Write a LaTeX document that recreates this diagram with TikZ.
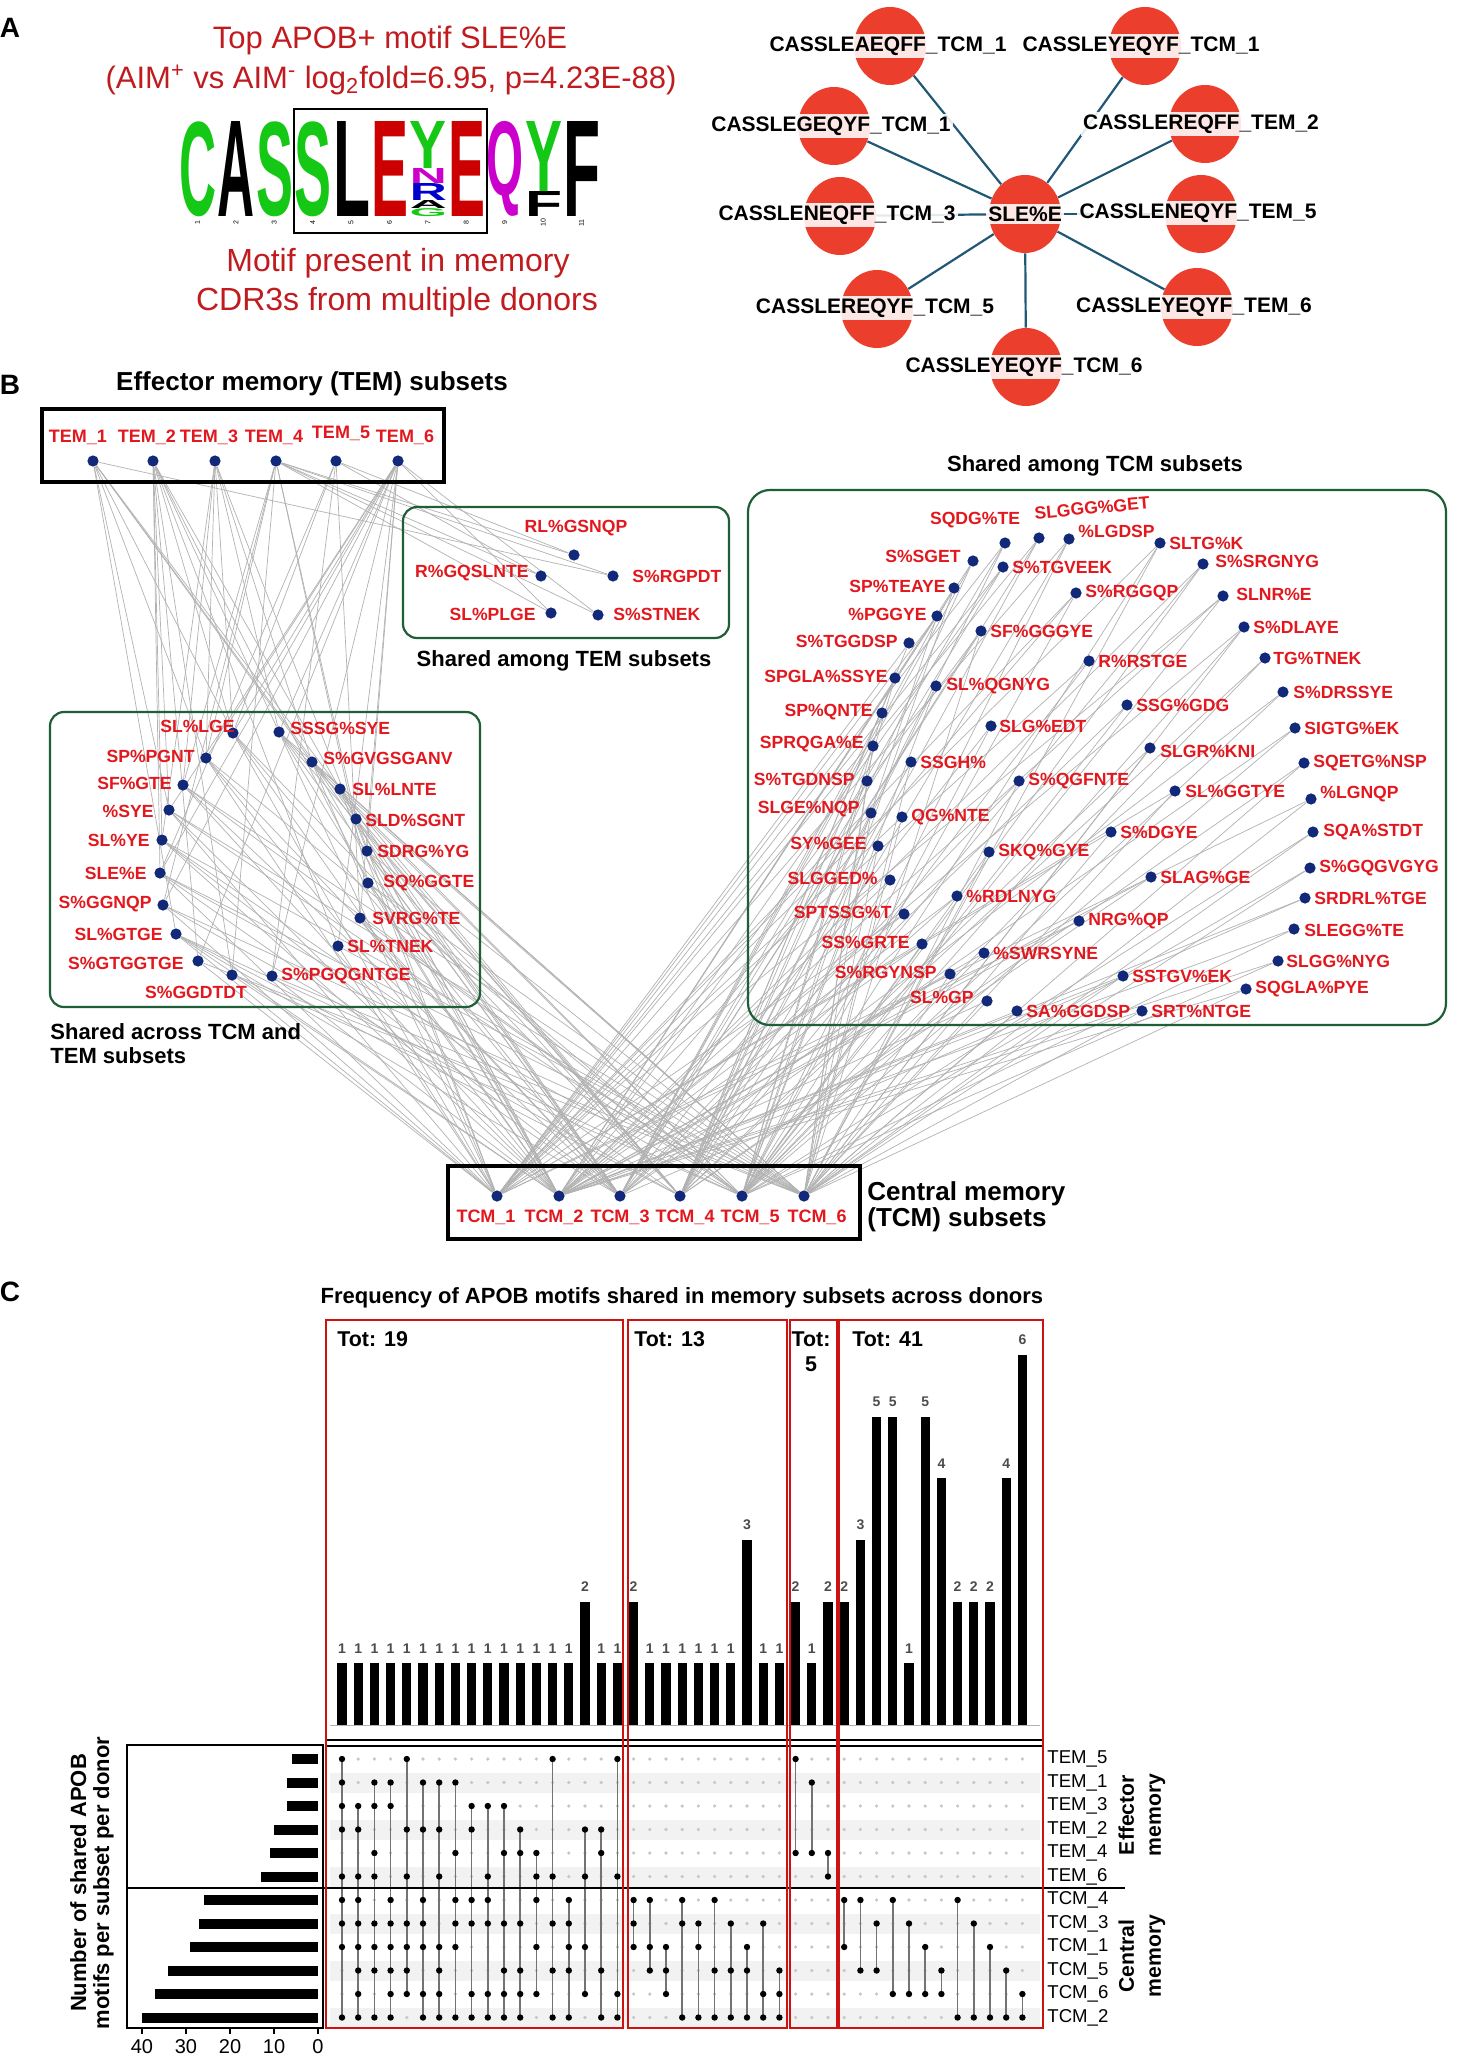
\documentclass[tikz,border=0pt]{standalone}
\usepackage{fontspec}
\setmainfont{Liberation Sans}
\usetikzlibrary{shapes.geometric}
\definecolor{titlered}{RGB}{192,28,32}
\definecolor{labred}{RGB}{226,24,30}
\definecolor{navy}{RGB}{18,40,120}
\definecolor{nodered}{RGB}{236,62,44}
\definecolor{netblue}{RGB}{32,88,118}
\definecolor{boxgreen}{RGB}{30,95,55}
\definecolor{lgreen}{RGB}{22,200,22}
\definecolor{lred}{RGB}{204,0,0}
\definecolor{lmag}{RGB}{204,0,204}
\definecolor{lblue}{RGB}{0,0,204}
\definecolor{upred}{RGB}{206,18,18}
\pgfdeclarelayer{bglayer}
\pgfdeclarelayer{edgelayer}
\pgfsetlayers{bglayer,edgelayer,main}
\newcommand{\logoletter}[6]{\node[logo,text=#5] (#6) at (#1,#2) {\resizebox*{18.5pt}{#3pt}{\bfseries #4}};}
\begin{document}
\begin{tikzpicture}[x=0.5pt,y=-0.5pt,
  every node/.style={inner sep=0pt},
  titletxt/.style={text=titlered,font=\fontsize{15.5}{18}\selectfont},
  subtxt/.style={text=titlered,font=\fontsize{16}{18}\selectfont},
  panellab/.style={font=\fontsize{14}{14}\selectfont\bfseries},
  ell/.style={ellipse,fill=nodered,minimum width=36pt,minimum height=39pt},
  netlab/.style={fill=white,fill opacity=0.88,text opacity=1,inner sep=1.3pt,font=\fontsize{10.5}{11}\selectfont\bfseries},
  netedge/.style={draw=netblue,line width=1.1pt},
  dot/.style={circle,fill=navy,minimum size=5.6pt},
  mlab/.style={text=labred,font=\fontsize{8.8}{9}\selectfont\bfseries},
  hdr/.style={font=\fontsize{13}{13}\selectfont\bfseries},
  shdr/.style={font=\fontsize{11}{12}\selectfont\bfseries},
  edge/.style={draw=black!30,line width=0.35pt},
  gbox/.style={draw=boxgreen,line width=1.1pt,rounded corners=7pt},
  kbox/.style={draw=black,line width=1.6pt},
  barnum/.style={text=black!70,font=\fontsize{7}{7}\selectfont\bfseries},
  tot/.style={font=\fontsize{10.7}{11}\selectfont\bfseries},
  rowlab/.style={anchor=west,font=\fontsize{9.3}{10}\selectfont},
  mline/.style={draw=black!55,line width=0.8pt},
  redbox/.style={draw=upred,line width=1.1pt},
  logo/.style={anchor=south west},
  lognum/.style={rotate=90,font=\fontsize{3.5}{4}\selectfont}
]
\useasboundingbox (0,0) rectangle (1456,2059);
\begin{pgfonlayer}{bglayer}
\fill[white] (0,0) rectangle (1456,2059);
\end{pgfonlayer}

% ================= Panel A =================
\node[panellab] (labA) at (10,28) {A};
\node[titletxt] (t1) at (390,40) {Top APOB+ motif SLE\%E};
\node[titletxt] (t2) at (391,80) {(AIM\textsuperscript{+} vs AIM\textsuperscript{-} log\textsubscript{2}fold=6.95, p=4.23E-88)};
\node[subtxt] (t3) at (398,263) {Motif present in memory};
\node[subtxt] (t4) at (397,302) {CDR3s from multiple donors};

\logoletter{179}{217}{47.5}{C}{lgreen}{lg1}
\logoletter{217.4}{217}{47.5}{A}{black}{lg2}
\logoletter{255.8}{217}{47.5}{S}{lgreen}{lg3}
\logoletter{294.2}{217}{47.5}{S}{lgreen}{lg4}
\logoletter{332.6}{217}{47.5}{L}{black}{lg5}
\logoletter{371}{217}{47.5}{E}{lred}{lg6}
\logoletter{409.4}{217}{4}{G}{lgreen}{lg7a}
\logoletter{409.4}{209}{4}{A}{black}{lg7b}
\logoletter{409.4}{201}{8.5}{R}{lblue}{lg7c}
\logoletter{409.4}{184}{7.5}{N}{lmag}{lg7d}
\logoletter{409.4}{169}{23.5}{Y}{lgreen}{lg7e}
\logoletter{447.8}{217}{47.5}{E}{lred}{lg8}
\logoletter{486.2}{217}{47.5}{Q}{lmag}{lg9}
\logoletter{524.6}{217}{12.5}{F}{black}{lg10a}
\logoletter{524.6}{192}{35}{Y}{lgreen}{lg10b}
\logoletter{563}{217}{47.5}{F}{black}{lg11}
\draw[line width=1pt] (294,109) rectangle (487,233);
\foreach \k in {1,...,11} {
  \node[lognum] (ln\k) at ({179+38.4*(\k-1)+18.5},223) {\k};
}

% network
\node[ell] (C) at (1025,214) {};
\node[ell] (E1) at (890,46) {};
\node[ell] (E2) at (1145,46) {};
\node[ell] (E3) at (834,126) {};
\node[ell] (E4) at (1205,124) {};
\node[ell] (E5) at (840,216) {};
\node[ell] (E6) at (1201,214) {};
\node[ell] (E7) at (877,309) {};
\node[ell] (E8) at (1197,307) {};
\node[ell] (E9) at (1026,367) {};
\foreach \k in {1,...,9} {\draw[netedge] (C) -- (E\k);}
\node[netlab] (Ct) at (1025,214) {SLE\%E};
\node[netlab] (E1t) at (888,46) {CASSLEAEQFF\_TCM\_1};
\node[netlab] (E2t) at (1141,46) {CASSLEYEQYF\_TCM\_1};
\node[netlab] (E3t) at (831,126) {CASSLEGEQYF\_TCM\_1};
\node[netlab] (E4t) at (1201,124) {CASSLEREQFF\_TEM\_2};
\node[netlab] (E5t) at (837,215) {CASSLENEQFF\_TCM\_3};
\node[netlab] (E6t) at (1198,213) {CASSLENEQYF\_TEM\_5};
\node[netlab] (E7t) at (875,308) {CASSLEREQYF\_TCM\_5};
\node[netlab] (E8t) at (1194,307) {CASSLEYEQYF\_TEM\_6};
\node[netlab] (E9t) at (1024,367) {CASSLEYEQYF\_TCM\_6};

% ================= Panel B =================
\node[panellab] (labB) at (10,385) {B};
\node[hdr] (hTEM) at (312,384) {Effector memory (TEM) subsets};
\draw[kbox] (42,409) rectangle (444,482);
\draw[kbox] (448,1166) rectangle (860,1239);
\draw[gbox] (50,712) rectangle (480,1007);
\draw[gbox] (403,507) rectangle (729,638);
\draw[gbox,rounded corners=11pt] (748,490) rectangle (1446,1025);
\node[shdr] (hTEMsh) at (564,661) {Shared among TEM subsets};
\node[shdr] (hTCMsh) at (1095,466) {Shared among TCM subsets};
\node[shdr,anchor=west,align=left] (hBoth) at (50,1044) {Shared across TCM and\\TEM subsets};
\node[hdr,anchor=west,align=left,font=\fontsize{13}{13}\selectfont\bfseries] (hTCM) at (867,1207) {Central memory\\(TCM) subsets};

\foreach \k/\x/\lx/\ly in {1/93/78/437,2/153/147/437,3/215/209/437,4/276/274/437,5/336/341/433,6/398/405/437} {
  \node[dot] (TEM\k) at (\x,461) {};
  \node[mlab,font=\fontsize{9}{9}\selectfont\bfseries] (TEM\k-t) at (\lx,\ly) {TEM\_\k};
}
\foreach \k/\x/\lx in {1/497/486,2/559/554,3/620/620,4/680/685,5/742/750,6/804/817} {
  \node[dot] (TCM\k) at (\x,1196) {};
  \node[mlab,font=\fontsize{9}{9}\selectfont\bfseries] (TCM\k-t) at (\lx,1217) {TCM\_\k};
}

% motifs shared across TCM and TEM
\foreach \n/\x/\y/\a/\lx/\ly/\t in {
 L1/233/733/east/235/726/SL\%LGE,
 L2/279/732/west/290/728/SSSG\%SYE,
 L3/206/758/east/195/756/SP\%PGNT,
 L4/312/762/west/323/758/S\%GVGSGANV,
 L5/183/785/east/172/783/SF\%GTE,
 L6/340/789/west/352/789/SL\%LNTE,
 L7/169/810/east/154/811/\%SYE,
 L8/356/819/west/365/820/SLD\%SGNT,
 L9/162/840/east/150/840/SL\%YE,
 L10/367/851/west/377/851/SDRG\%YG,
 L11/160/873/east/147/873/SLE\%E,
 L12/368/883/west/383/883/SQ\%GGTE,
 L13/163/905/east/152/904/S\%GGNQP,
 L14/360/918/west/372/918/SVRG\%TE,
 L15/176/934/east/163/934/SL\%GTGE,
 L16/338/946/west/347/946/SL\%TNEK,
 L17/198/961/east/184/963/S\%GTGGTGE,
 L18/232/975/center/196/992/S\%GGDTDT,
 L19/272/976/west/281/976/S\%PGQGNTGE,
 T1/574/555/center/576/528/RL\%GSNQP,
 T2/541/576/east/529/573/R\%GQSLNTE,
 T3/613/576/west/632/576/S\%RGPDT,
 T4/551/613/east/536/614/SL\%PLGE,
 T5/598/615/west/613/614/S\%STNEK,
 R1/1005/543/center/975/520/SQDG\%TE,
 R3/1069/539/west/1078/531/\%LGDSP,
 R4/1160/543/west/1169/543/SLTG\%K,
 R5/973/561/east/961/556/S\%SGET,
 R6/1003/567/west/1012/567/S\%TGVEEK,
 R7/1203/564/west/1215/561/S\%SRGNYG,
 R8/954/588/east/946/586/SP\%TEAYE,
 R9/1076/593/west/1085/593/S\%RGGQP,
 R10/1223/596/west/1236/594/SLNR\%E,
 R11/937/616/east/927/614/\%PGGYE,
 R12/981/631/west/990/631/SF\%GGGYE,
 R13/1244/627/west/1253/627/S\%DLAYE,
 R14/909/643/east/898/641/S\%TGGDSP,
 R15/1089/661/west/1098/661/R\%RSTGE,
 R16/1265/658/west/1273/658/TG\%TNEK,
 R17/895/678/east/888/676/SPGLA\%SSYE,
 R18/936/686/west/946/686/SL\%QGNYG,
 R19/1283/692/west/1293/692/S\%DRSSYE,
 R20/882/713/east/873/712/SP\%QNTE,
 R21/1127/705/west/1136/705/SSG\%GDG,
 R22/991/726/west/999/726/SLG\%EDT,
 R23/1295/728/west/1304/728/SIGTG\%EK,
 R24/873/746/east/864/744/SPRQGA\%E,
 R25/1150/748/west/1160/751/SLGR\%KNI,
 R26/911/762/west/920/762/SSGH\%,
 R27/1304/763/west/1313/763/SQETG\%NSP,
 R28/867/781/east/855/779/S\%TGDNSP,
 R29/1019/781/west/1028/781/S\%QGFNTE,
 R30/1175/791/west/1185/791/SL\%GGTYE,
 R31/1311/799/west/1320/794/\%LGNQP,
 R32/871/813/east/860/809/SLGE\%NQP,
 R33/902/817/west/911/817/QG\%NTE,
 R34/1111/832/west/1120/832/S\%DGYE,
 R35/1313/832/west/1323/832/SQA\%STDT,
 R36/878/846/east/867/843/SY\%GEE,
 R37/989/852/west/998/852/SKQ\%GYE,
 R38/1310/868/west/1319/868/S\%GQGVGYG,
 R39/890/880/east/878/878/SLGGED\%,
 R40/1151/877/west/1160/877/SLAG\%GE,
 R41/957/896/west/966/896/\%RDLNYG,
 R42/1305/898/west/1314/898/SRDRL\%TGE,
 R43/904/914/east/892/912/SPTSSG\%T,
 R44/1079/921/west/1088/921/NRG\%QP,
 R45/1294/929/west/1304/930/SLEGG\%TE,
 R46/922/944/east/910/942/SS\%GRTE,
 R47/984/953/west/993/953/\%SWRSYNE,
 R48/1278/961/west/1286/961/SLGG\%NYG,
 R49/950/974/east/937/972/S\%RGYNSP,
 R50/1123/976/west/1132/976/SSTGV\%EK,
 R51/1246/989/west/1255/989/SQGLA\%PYE,
 R52/987/1001/east/974/997/SL\%GP,
 R53/1017/1011/west/1026/1011/SA\%GGDSP,
 R54/1142/1011/west/1151/1011/SRT\%NTGE} {
  \node[dot] (\n) at (\x,\y) {};
  \node[mlab,anchor=\a] (\n-t) at (\lx,\ly) {\t};
}
\node[dot] (R2) at (1039,538) {};
\node[mlab,rotate=5] (R2-t) at (1092,508) {SLGGG\%GET};

\begin{pgfonlayer}{edgelayer}
\foreach \n/\a/\b in {
 L1/{5,1,3,2,6}/{4,3,1,2}, L2/{3,2,6}/{4,3,1,5,6,2}, L3/{1,3,4,6}/{3,1,5,2},
 L4/{1,3}/{4,3,1,5,6,2}, L5/{3,4}/{3,5,6,2}, L6/{1,2}/{4,3,1,6,2},
 L7/{1,2,6}/{1,5,6,2}, L8/{1,4}/{4,3,1,2}, L9/{3,2}/{4,3,6,2},
 L10/{3,6}/{4,3,6,2}, L11/{5,2,6}/{3,1,5,6}, L12/{2,4}/{3,5,6,2},
 L13/{4,6}/{4,1,6}, L14/{5,6}/{3,5,2}, L15/{1}/{4,3,1,5,2},
 L16/{2,6}/{1,6}, L17/{2,6}/{1,6}, L18/{2,4}/{5,2}, L19/{5,6}/{6,2}} {
  \foreach \k in \a {\draw[edge] (TEM\k) -- (\n);}
  \foreach \k in \b {\draw[edge] (TCM\k) -- (\n);}
}
\foreach \n/\a in {T1/{5,4},T2/{5,4},T3/{1,4},T4/{4,6},T5/{4,6}} {
  \foreach \k in \a {\draw[edge] (TEM\k) -- (\n);}
}
\foreach \n/\b in {
 R1/{4,3,1}, R2/{4,3,1}, R3/{4,1,5}, R4/{1,5,6}, R5/{4,3,2}, R6/{3,1,2},
 R7/{4,5,2}, R8/{3,5,2}, R9/{1,5,2}, R10/{1,5,2}, R11/{1,5,2}, R12/{3,6,2},
 R13/{5,6,2}, R14/{4,1}, R15/{4,1}, R16/{4,5}, R17/{4,5}, R18/{4,5},
 R19/{3,5}, R20/{3,5}, R21/{3,5}, R22/{3,5}, R23/{3,5}, R24/{4,6},
 R25/{4,6}, R26/{4,6}, R27/{4,6}, R28/{4,6}, R29/{3,6}, R30/{1,6},
 R31/{1,6}, R32/{1,6}, R33/{1,6}, R34/{1,6}, R35/{5,6}, R36/{5,6},
 R37/{5,6}, R38/{5,6}, R39/{4,2}, R40/{4,2}, R41/{3,2}, R42/{3,2},
 R43/{1,2}, R44/{1,2}, R45/{5,2}, R46/{5,2}, R47/{5,2}, R48/{5,2},
 R49/{6,2}, R50/{6,2}, R51/{6,2}, R52/{6,2}, R53/{6,2}, R54/{6,2}} {
  \foreach \k in \b {\draw[edge] (TCM\k) -- (\n);}
}
\end{pgfonlayer}

% ================= Panel C =================
\node[panellab] (labC) at (10,1292) {C};
\node[shdr] (hC) at (682,1298) {Frequency of APOB motifs shared in memory subsets across donors};

% row bands
\foreach \r in {2,4,6,8,10,12} {
  \fill[black!5] (330,{1759+23.5*(\r-1)-10}) rectangle (1040,{1759+23.5*(\r-1)+10});
}
% bars
\draw[black!30,line width=0.5pt] (330,1725) -- (1040,1725);
\foreach \i/\h in {1/1,2/1,3/1,4/1,5/1,6/1,7/1,8/1,9/1,10/1,11/1,12/1,13/1,14/1,15/1,16/2,17/1,18/1,
  19/2,20/1,21/1,22/1,23/1,24/1,25/1,26/3,27/1,28/1,29/2,30/1,31/2,
  32/2,33/3,34/5,35/5,36/1,37/5,38/4,39/2,40/2,41/2,42/4,43/6} {
  \pgfmathsetmacro{\xx}{342+16.2*(\i-1)}
  \pgfmathsetmacro{\yy}{1725-61.7*\h}
  \fill[black] (\xx-4.65,1725) rectangle (\xx+4.65,\yy);
  \node[barnum] (bn\i) at (\xx,\yy-15) {\h};
}
\draw[line width=0.8pt] (326,1740) -- (1043,1740);
\draw[line width=0.8pt] (326,1746) -- (1043,1746);

% matrix
\foreach \i in {1,...,43} {
  \pgfmathsetmacro{\xx}{342+16.2*(\i-1)}
  \foreach \r in {1,...,12} {\fill[black!22] (\xx,{1759+23.5*(\r-1)}) circle (0.9pt);}
}
\foreach \i/\rows/\lo/\hi in {
 1/{1,2,3,4,6,7,8,9,12}/1/12, 2/{3,4,6,7,8,9,10,11,12}/3/12, 3/{2,3,5,6,8,9,10,12}/2/12,
 4/{2,3,7,8,9,10,11,12}/2/12, 5/{1,4,6,8,9,10,11}/1/11, 6/{2,4,7,8,9,11,12}/2/12,
 7/{2,4,6,9,10,11,12}/2/12, 8/{2,5,7,8,9,12}/2/12, 9/{3,4,7,8,11,12}/3/12,
 10/{3,6,7,8,11,12}/3/12, 11/{3,5,8,10,11,12}/3/12, 12/{4,5,8,10,11,12}/4/12,
 13/{5,6,7,9,11}/5/11, 14/{1,6,8,10,12}/1/12, 15/{7,8,9,10,12}/7/12,
 16/{4,6,9,11}/4/11, 17/{4,5,10,12}/4/12, 18/{1,6,11,12}/1/12,
 19/{7,8,9}/7/9, 20/{7,9,10}/7/10, 21/{9,10,11}/9/11, 22/{7,8,12}/7/12,
 23/{8,9,12}/8/12, 24/{7,10,12}/7/12, 25/{8,10,12}/8/12, 26/{9,10,12}/9/12,
 27/{8,11,12}/8/12, 28/{10,11,12}/10/12, 29/{1,5}/1/5, 30/{2,5}/2/5, 31/{5,6}/5/6,
 32/{7,9}/7/9, 33/{7,10}/7/10, 34/{8,10}/8/10, 35/{7,11}/7/11, 36/{8,11}/8/11,
 37/{9,11}/9/11, 38/{10,11}/10/11, 39/{7,12}/7/12, 40/{8,12}/8/12,
 41/{9,12}/9/12, 42/{10,12}/10/12, 43/{11,12}/11/12} {
  \pgfmathsetmacro{\xx}{342+16.2*(\i-1)}
  \draw[mline] (\xx,{1759+23.5*(\lo-1)}) -- (\xx,{1759+23.5*(\hi-1)});
  \foreach \r in \rows {\fill[black] (\xx,{1759+23.5*(\r-1)}) circle (1.6pt);}
}
\foreach \r/\t in {1/TEM\_5,2/TEM\_1,3/TEM\_3,4/TEM\_2,5/TEM\_4,6/TEM\_6,
  7/TCM\_4,8/TCM\_3,9/TCM\_1,10/TCM\_5,11/TCM\_6,12/TCM\_2} {
  \node[rowlab] (rl\r) at (1047,{1759+23.5*(\r-1)}) {\t};
}
\draw[line width=0.8pt] (127,1888) -- (1125,1888);
\node[rotate=90,align=center,font=\fontsize{10.6}{13.5}\selectfont\bfseries] (gEff) at (1142,1815) {Effector\\memory};
\node[rotate=90,align=center,font=\fontsize{10.6}{13.5}\selectfont\bfseries] (gCen) at (1142,1956) {Central\\memory};

% left bar chart
\draw[line width=0.6pt] (127,1745) rectangle (323,2028);
\foreach \r/\v in {1/6,2/7,3/7,4/10,5/11,6/13,7/26,8/27,9/29,10/34,11/37,12/40} {
  \pgfmathsetmacro{\yy}{1759+23.5*(\r-1)}
  \fill[black] ({318-4.4*\v},\yy-5) rectangle (318,\yy+5);
}
\foreach \v in {0,10,20,30,40} {
  \draw[line width=0.6pt] ({318-4.4*\v},2028) -- ({318-4.4*\v},2034);
  \node[font=\fontsize{10}{10}\selectfont] (tk\v) at ({318-4.4*\v},2047) {\v};
}
\node[rotate=90,align=center,font=\fontsize{11}{11.5}\selectfont\bfseries] (ylab) at (92,1883) {Number of shared APOB\\motifs per subset per donor};

% group totals and red boxes
\node[tot,anchor=west] (tot1) at (337,1339) {Tot: 19};
\node[tot,anchor=west] (tot2) at (634,1339) {Tot: 13};
\node[tot] (tot3a) at (811,1339) {Tot:};
\node[tot] (tot3b) at (811,1364) {5};
\node[tot,anchor=west] (tot4) at (852,1339) {Tot: 41};
\draw[redbox] (326,1320) rectangle (623,2028);
\draw[redbox] (628,1320) rectangle (787,2028);
\draw[redbox] (790,1320) rectangle (837,2028);
\draw[redbox] (839,1320) rectangle (1043,2028);
\end{tikzpicture}
\end{document}
